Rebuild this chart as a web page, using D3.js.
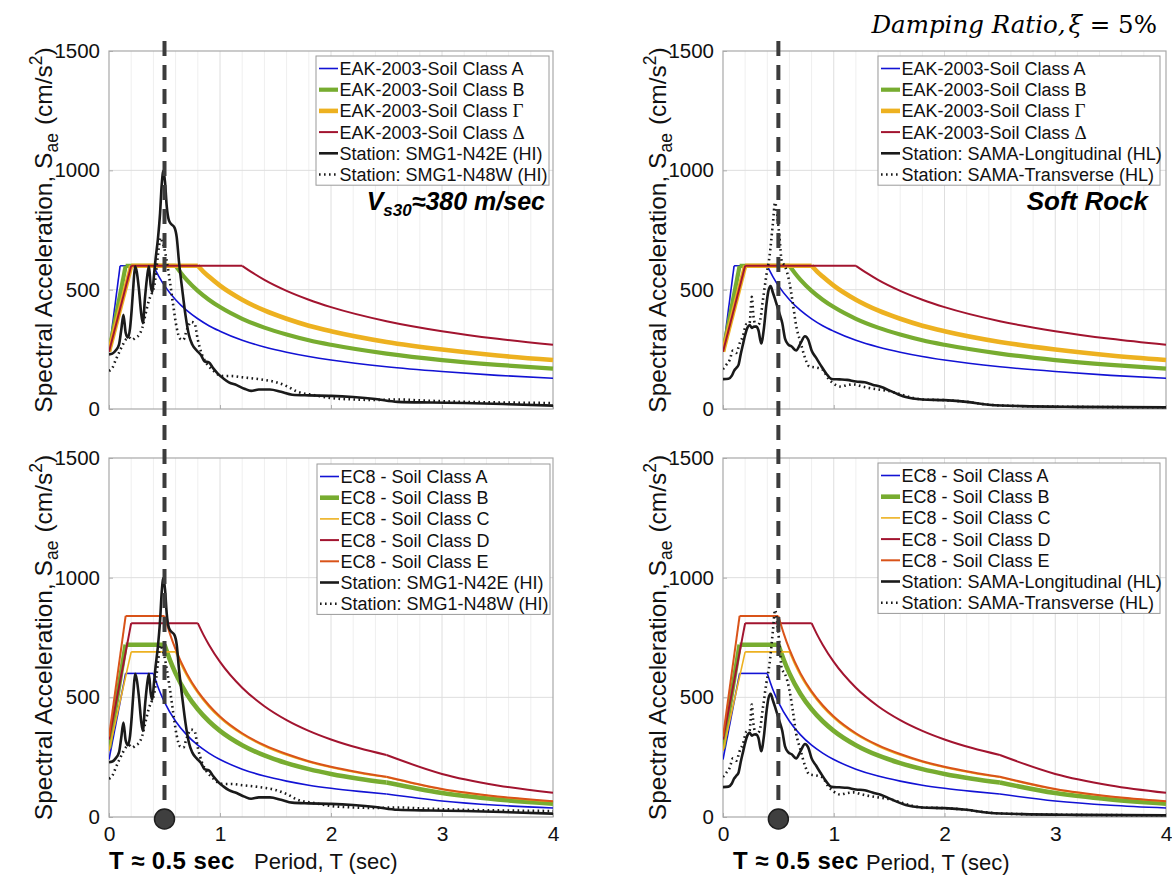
<!DOCTYPE html>
<html><head><meta charset="utf-8">
<script src="https://cdn.jsdelivr.net/npm/d3@7"></script>
<style>
body{margin:0;background:#fff;}
svg{display:block;font-family:"Liberation Sans",Arial,Helvetica,sans-serif;}
</style>
</head><body>
<svg id="chart" width="1172" height="875"></svg>
<script>
// ---------------- DATA ----------------
const periodTicks = [0, 1, 2, 3, 4];
const periodMinorTicks = [0.2, 0.4, 0.6, 0.8, 1.2, 1.4, 1.6, 1.8, 2.2, 2.4, 2.6, 2.8, 3.2, 3.4, 3.6, 3.8];
const saTicks = [0, 500, 1000, 1500];
const markPeriod = 0.5;

// EAK-2003 design spectra (period s, Sae cm/s^2)
const eakA_T  = [0, 0.1, 0.4, 0.45, 0.5, 0.6, 0.7, 0.8, 0.9, 1.0, 1.2, 1.4, 1.6, 1.8, 2.0, 2.5, 3.0, 3.5, 4.0];
const eakA_Sa = [240, 600, 600, 555, 517, 458, 413, 378, 349, 326, 288, 260, 238, 220, 205, 177, 157, 141, 129];
const eakB_T  = [0, 0.15, 0.6, 0.65, 0.7, 0.8, 0.9, 1.0, 1.2, 1.4, 1.6, 1.8, 2.0, 2.5, 3.0, 3.5, 4.0];
const eakB_Sa = [240, 600, 600, 569, 541, 495, 458, 427, 378, 341, 312, 288, 269, 232, 205, 185, 169];
const eakG_T  = [0, 0.2, 0.8, 0.85, 0.9, 1.0, 1.2, 1.4, 1.6, 1.8, 2.0, 2.5, 3.0, 3.5, 4.0];
const eakG_Sa = [240, 600, 600, 576, 555, 517, 458, 413, 378, 349, 326, 281, 249, 224, 205];
const eakD_T  = [0, 0.2, 1.2, 1.3, 1.4, 1.6, 1.8, 2.0, 2.5, 3.0, 3.5, 4.0];
const eakD_Sa = [240, 600, 600, 569, 541, 495, 458, 427, 368, 326, 294, 269];
const eakCorners = [[0.1, 0.4], [0.15, 0.6], [0.2, 0.8], [0.2, 1.2]];
const eakLabels = ["EAK-2003-Soil Class A", "EAK-2003-Soil Class B", "EAK-2003-Soil Class Γ", "EAK-2003-Soil Class Δ"];

// EC8 design spectra
const ec8A_T  = [0, 0.15, 0.4, 0.45, 0.5, 0.6, 0.7, 0.8, 0.9, 1.0, 1.2, 1.4, 1.6, 1.8, 2.0, 2.25, 2.5, 3.0, 3.5, 4.0];
const ec8A_Sa = [240, 600, 600, 533, 480, 400, 343, 300, 267, 240, 200, 171, 150, 133, 120, 107, 96, 67, 49, 37.5];
const ec8B_T  = [0, 0.15, 0.5, 0.55, 0.6, 0.7, 0.8, 0.9, 1.0, 1.2, 1.4, 1.6, 1.8, 2.0, 2.25, 2.5, 3.0, 3.5, 4.0];
const ec8B_Sa = [288, 720, 720, 655, 600, 514, 450, 400, 360, 300, 257, 225, 200, 180, 160, 144, 100, 73.5, 56];
const ec8C_T  = [0, 0.2, 0.6, 0.65, 0.7, 0.8, 0.9, 1.0, 1.2, 1.4, 1.6, 1.8, 2.0, 2.25, 2.5, 3.0, 3.5, 4.0];
const ec8C_Sa = [276, 690, 690, 637, 591, 518, 460, 414, 345, 296, 259, 230, 207, 184, 166, 115, 84.5, 64.7];
const ec8D_T  = [0, 0.2, 0.8, 0.85, 0.9, 1.0, 1.2, 1.4, 1.6, 1.8, 2.0, 2.25, 2.5, 3.0, 3.5, 4.0];
const ec8D_Sa = [324, 810, 810, 762, 720, 648, 540, 463, 405, 360, 324, 288, 259, 180, 132, 101];
const ec8E_T  = [0, 0.15, 0.5, 0.55, 0.6, 0.7, 0.8, 0.9, 1.0, 1.2, 1.4, 1.6, 1.8, 2.0, 2.25, 2.5, 3.0, 3.5, 4.0];
const ec8E_Sa = [336, 840, 840, 764, 700, 600, 525, 467, 420, 350, 300, 263, 233, 210, 187, 168, 117, 86, 66];
const ec8Corners = [[0.15, 0.4, 2.5], [0.15, 0.5, 2.5], [0.2, 0.6, 2.5], [0.2, 0.8, 2.5], [0.15, 0.5, 2.5]];
const ec8Labels = ["EC8 - Soil Class A", "EC8 - Soil Class B", "EC8 - Soil Class C", "EC8 - Soil Class D", "EC8 - Soil Class E"];

// Recorded spectra, station SMG1
const smgN42E_T  = [0, 0.03, 0.06, 0.09, 0.11, 0.13, 0.15, 0.17, 0.19, 0.205, 0.22, 0.235, 0.25, 0.27, 0.29, 0.305, 0.325, 0.345, 0.36, 0.375, 0.39, 0.405, 0.42, 0.44, 0.46, 0.475, 0.49, 0.505, 0.52, 0.54, 0.56, 0.59, 0.61, 0.63, 0.66, 0.69, 0.72, 0.75, 0.79, 0.83, 0.86, 0.9, 0.94, 0.98, 1.03, 1.08, 1.15, 1.22, 1.28, 1.35, 1.45, 1.55, 1.65, 1.8, 2.0, 2.2, 2.4, 2.6, 2.9, 3.2, 3.6, 4.0];
const smgN42E_Sa = [229, 232, 245, 270, 330, 395, 320, 300, 340, 420, 520, 598, 575, 500, 400, 360, 470, 560, 598, 520, 490, 560, 630, 710, 820, 940, 998, 950, 850, 790, 775, 760, 720, 620, 500, 390, 310, 270, 245, 225, 200, 195, 170, 148, 128, 112, 100, 85, 76, 82, 82, 72, 60, 57, 55, 50, 42, 30, 27, 25, 20, 14];
const smgN48W_T  = [0, 0.03, 0.06, 0.09, 0.12, 0.15, 0.18, 0.21, 0.24, 0.27, 0.3, 0.33, 0.36, 0.39, 0.41, 0.43, 0.45, 0.465, 0.48, 0.5, 0.52, 0.55, 0.58, 0.61, 0.64, 0.67, 0.7, 0.74, 0.77, 0.8, 0.84, 0.88, 0.93, 0.98, 1.03, 1.1, 1.2, 1.3, 1.4, 1.5, 1.6, 1.7, 1.85, 2.0, 2.2, 2.4, 2.6, 2.8, 3.2, 3.6, 4.0];
const smgN48W_Sa = [160, 172, 205, 236, 265, 290, 300, 290, 300, 310, 340, 400, 455, 490, 520, 600, 680, 718, 700, 670, 620, 530, 430, 340, 295, 290, 330, 365, 360, 290, 225, 190, 165, 145, 138, 138, 133, 128, 122, 113, 96, 72, 58, 46, 40, 38, 40, 36, 30, 27, 25];
const smgLabels = ["Station: SMG1-N42E (HI)", "Station: SMG1-N48W (HI)"];

// Recorded spectra, station SAMA
const samaL_T  = [0, 0.05, 0.08, 0.1, 0.12, 0.14, 0.16, 0.18, 0.2, 0.22, 0.24, 0.26, 0.28, 0.3, 0.32, 0.345, 0.37, 0.39, 0.41, 0.43, 0.45, 0.47, 0.49, 0.51, 0.535, 0.56, 0.59, 0.62, 0.66, 0.7, 0.74, 0.77, 0.8, 0.84, 0.88, 0.93, 0.98, 1.05, 1.12, 1.2, 1.28, 1.35, 1.43, 1.5, 1.58, 1.65, 1.8, 2.0, 2.2, 2.4, 2.7, 3.2, 4.0];
const samaL_Sa = [125, 127, 140, 160, 172, 185, 230, 270, 310, 340, 352, 340, 345, 345, 330, 275, 340, 430, 495, 515, 488, 460, 430, 400, 360, 295, 270, 262, 245, 275, 305, 290, 245, 215, 185, 150, 126, 124, 122, 115, 112, 102, 92, 78, 62, 50, 40, 37, 30, 18, 12, 9, 7];
const samaT_T  = [0, 0.03, 0.06, 0.09, 0.12, 0.15, 0.18, 0.21, 0.24, 0.26, 0.275, 0.3, 0.33, 0.36, 0.39, 0.42, 0.45, 0.47, 0.49, 0.51, 0.53, 0.56, 0.6, 0.63, 0.66, 0.7, 0.74, 0.78, 0.82, 0.86, 0.9, 0.95, 1.0, 1.06, 1.12, 1.18, 1.25, 1.32, 1.4, 1.5, 1.6, 1.7, 1.8, 2.0, 2.2, 2.4, 2.7, 3.2, 4.0];
const samaT_Sa = [167, 185, 205, 245, 235, 275, 305, 355, 360, 470, 390, 345, 360, 455, 555, 640, 775, 865, 810, 720, 620, 598, 530, 445, 350, 280, 215, 178, 175, 172, 165, 128, 106, 94, 100, 103, 95, 88, 82, 75, 62, 48, 40, 37, 30, 18, 12, 9, 7];
const samaLabels = ["Station: SAMA-Longitudinal (HL)", "Station: SAMA-Transverse (HL)"];

// ---------------- STYLES / LAYOUT ----------------
const eakStyles = [
  {color: "#1212d4", width: 1.6},
  {color: "#77ac30", width: 4.2},
  {color: "#edb120", width: 4.6},
  {color: "#a2142f", width: 2}
];
const ec8Styles = [
  {color: "#1212d4", width: 1.6},
  {color: "#77ac30", width: 4.6},
  {color: "#edb120", width: 1.6},
  {color: "#a2142f", width: 2},
  {color: "#d95319", width: 2}
];
const stationStyles = [
  {color: "#1a1a1a", width: 2.6, dash: null},
  {color: "#1a1a1a", width: 2.6, dash: "1.6,3.4"}
];

function makeCode(Ts, Sas, corners, labels, styles) {
  return Ts.map((T, i) => ({T, Sa: Sas[i], corners: corners[i], label: labels[i], style: styles[i]}));
}
const eakSeries = makeCode([eakA_T, eakB_T, eakG_T, eakD_T], [eakA_Sa, eakB_Sa, eakG_Sa, eakD_Sa], eakCorners, eakLabels, eakStyles);
const ec8Series = makeCode([ec8A_T, ec8B_T, ec8C_T, ec8D_T, ec8E_T], [ec8A_Sa, ec8B_Sa, ec8C_Sa, ec8D_Sa, ec8E_Sa], ec8Corners, ec8Labels, ec8Styles);
const smgSeries = [
  {T: smgN42E_T, Sa: smgN42E_Sa, corners: [], label: smgLabels[0], style: stationStyles[0]},
  {T: smgN48W_T, Sa: smgN48W_Sa, corners: [], label: smgLabels[1], style: stationStyles[1]}
];
const samaSeries = [
  {T: samaL_T, Sa: samaL_Sa, corners: [], label: samaLabels[0], style: stationStyles[0]},
  {T: samaT_T, Sa: samaT_Sa, corners: [], label: samaLabels[1], style: stationStyles[1]}
];

const panels = [
  {left: 109, right: 553, top: 51, bottom: 409, code: eakSeries, stations: smgSeries, leg: {x: 316, y: 56, w: 233}, xLabels: false, ylabX: 52},
  {left: 723, right: 1166, top: 51, bottom: 409, code: eakSeries, stations: samaSeries, leg: {x: 878, y: 56, w: 282}, xLabels: false, ylabX: 666},
  {left: 109, right: 553, top: 458, bottom: 817, code: ec8Series, stations: smgSeries, leg: {x: 317, y: 464, w: 233}, xLabels: true, ylabX: 52},
  {left: 723, right: 1166, top: 458, bottom: 817, code: ec8Series, stations: samaSeries, leg: {x: 878, y: 463, w: 282}, xLabels: true, ylabX: 666}
];

const svg = d3.select("#chart");
svg.append("rect").attr("width", 1172).attr("height", 875).attr("fill", "#fff");

function splitPieces(s) {
  const pts = s.T.map((t, i) => [t, s.Sa[i]]);
  if (!s.corners.length) return [pts];
  const pieces = [];
  let cur = [];
  pts.forEach(p => {
    cur.push(p);
    if (s.corners.some(c => Math.abs(c - p[0]) < 1e-9)) { pieces.push(cur); cur = [p]; }
  });
  if (cur.length > 1) pieces.push(cur);
  return pieces;
}

panels.forEach((p, pi) => {
  const x = d3.scaleLinear().domain([0, 4]).range([p.left, p.right]);
  const y = d3.scaleLinear().domain([0, 1500]).range([p.bottom, p.top]);
  p.x = x; p.y = y;
  const g = svg.append("g");

  // grid
  g.append("g").selectAll("line").data(periodMinorTicks).join("line")
    .attr("x1", d => x(d)).attr("x2", d => x(d)).attr("y1", p.top).attr("y2", p.bottom)
    .attr("stroke", "#efefef").attr("stroke-width", 1);
  g.append("g").selectAll("line").data(periodTicks.slice(1, -1)).join("line")
    .attr("x1", d => x(d)).attr("x2", d => x(d)).attr("y1", p.top).attr("y2", p.bottom)
    .attr("stroke", "#dedede").attr("stroke-width", 1);
  g.append("g").selectAll("line").data(saTicks.slice(1, -1)).join("line")
    .attr("x1", p.left).attr("x2", p.right).attr("y1", d => y(d)).attr("y2", d => y(d))
    .attr("stroke", "#dedede").attr("stroke-width", 1);

  // axes (box)
  const yAxis = d3.axisLeft(y).tickValues(saTicks).tickSize(-4).tickPadding(9).tickFormat(d3.format("d"));
  const ya = g.append("g").attr("transform", `translate(${p.left},0)`).call(yAxis);
  ya.select(".domain").remove();
  ya.selectAll("line").attr("stroke", "#b0b0b0");
  ya.selectAll("text").attr("font-size", 20.5).attr("fill", "#111").attr("font-family", "Liberation Sans, Arial, sans-serif");

  const xAxis = d3.axisBottom(x).tickValues(periodTicks).tickSize(-4).tickPadding(9)
    .tickFormat(p.xLabels ? d3.format("d") : () => "");
  const xa = g.append("g").attr("transform", `translate(0,${p.bottom})`).call(xAxis);
  xa.select(".domain").remove();
  xa.selectAll("line").attr("stroke", "#b0b0b0");
  xa.selectAll("text").attr("font-size", 21).attr("fill", "#111").attr("font-family", "Liberation Sans, Arial, sans-serif");

  g.append("rect").attr("x", p.left).attr("y", p.top).attr("width", p.right - p.left).attr("height", p.bottom - p.top)
    .attr("fill", "none").attr("stroke", "#a8a8a8").attr("stroke-width", 1.2);

  // clip
  const cid = "clip" + pi;
  svg.append("clipPath").attr("id", cid).append("rect")
    .attr("x", p.left).attr("y", p.top - 2).attr("width", p.right - p.left + 1).attr("height", p.bottom - p.top + 4);
  const plot = g.append("g").attr("clip-path", `url(#${cid})`);

  const line = d3.line().x(d => x(d[0])).y(d => y(d[1])).curve(d3.curveMonotoneX);
  const all = p.code.concat(p.stations);
  all.forEach(s => {
    splitPieces(s).forEach(piece => {
      plot.append("path").attr("d", line(piece)).attr("fill", "none")
        .attr("stroke", s.style.color).attr("stroke-width", s.style.width)
        .attr("stroke-dasharray", s.style.dash).attr("stroke-linejoin", "round");
    });
  });

  // y label
  const yl = g.append("text").attr("transform", `translate(${p.ylabX},${(p.top + p.bottom) / 2}) rotate(-90)`)
    .attr("text-anchor", "middle").attr("font-size", 24.5).attr("fill", "#111");
  yl.append("tspan").text("Spectral Acceleration, S");
  yl.append("tspan").attr("dy", 5.5).attr("font-size", 17.5).text("ae");
  yl.append("tspan").attr("dy", -5.5).attr("dx", 8).text("(cm/s");
  yl.append("tspan").attr("dy", -10).attr("font-size", 17.5).text("2");
  yl.append("tspan").attr("dy", 10).text(")");

  // legend
  const rowH = 21.2;
  const lg = g.append("g");
  lg.append("rect").attr("x", p.leg.x).attr("y", p.leg.y).attr("width", p.leg.w).attr("height", all.length * rowH + 2)
    .attr("fill", "#fff").attr("stroke", "#9a9a9a").attr("stroke-width", 1);
  all.forEach((s, i) => {
    const cy = p.leg.y + 12.5 + i * rowH;
    lg.append("line").attr("x1", p.leg.x + 3).attr("x2", p.leg.x + 22).attr("y1", cy).attr("y2", cy)
      .attr("stroke", s.style.color).attr("stroke-width", s.style.width).attr("stroke-dasharray", s.style.dash);
    const t = lg.append("text").attr("x", p.leg.x + 23.5).attr("y", cy + 6.4).attr("font-size", 18).attr("fill", "#111");
    const last = s.label.slice(-1);
    if (last === "Γ" || last === "Δ") {
      t.append("tspan").text(s.label.slice(0, -1));
      t.append("tspan").attr("font-family", "Liberation Serif, DejaVu Serif, serif").attr("font-size", 19).text(last);
    } else {
      t.text(s.label);
    }
  });
});

// annotation texts
const vs = svg.append("text").attr("x", 545).attr("y", 210).attr("text-anchor", "end")
  .attr("font-size", 25).attr("font-weight", "bold").attr("font-style", "italic").attr("fill", "#000");
vs.append("tspan").text("V");
vs.append("tspan").attr("dy", 6).attr("font-size", 17).text("s30");
vs.append("tspan").attr("dy", -6).text("≈380 m/sec");

svg.append("text").attr("x", 1148).attr("y", 210).attr("text-anchor", "end")
  .attr("font-size", 26).attr("font-weight", "bold").attr("font-style", "italic").attr("fill", "#000").text("Soft Rock");

const ttl = svg.append("text").attr("x", 1157).attr("y", 33).attr("text-anchor", "end")
  .attr("font-family", "DejaVu Serif, Liberation Serif, serif").attr("font-size", 24.5).attr("fill", "#000");
ttl.append("tspan").attr("font-style", "italic").text("Damping Ratio,");
ttl.append("tspan").attr("font-style", "italic").attr("dx", 3).text("ξ");
ttl.append("tspan").text(" = 5%");

// vertical marker lines at T = 0.5 s with dots
[[panels[0], panels[2]], [panels[1], panels[3]]].forEach(([top, bot]) => {
  const xm = top.x(markPeriod);
  svg.append("line").attr("x1", xm).attr("x2", xm).attr("y1", 41).attr("y2", bot.y(0) - 6)
    .attr("stroke", "#3c3c3c").attr("stroke-width", 4).attr("stroke-dasharray", "15,9");
  svg.append("circle").attr("cx", bot.x(markPeriod)).attr("cy", bot.y(0) + 2).attr("r", 10)
    .attr("fill", "#3f3f3f").attr("stroke", "#1e1e1e").attr("stroke-width", 1.5);
});

// bottom texts
[[panels[2], 109, 254, 869, 869], [panels[3], 733, 866, 869, 869.5]].forEach(([p, tx, px, ty, py]) => {
  svg.append("text").attr("x", tx).attr("y", ty).attr("font-size", 24).attr("font-weight", "bold")
    .attr("letter-spacing", 0.4).attr("fill", "#000").text("T ≈ 0.5 sec");
  svg.append("text").attr("x", px).attr("y", py).attr("font-size", 22).attr("fill", "#111").text("Period, T (sec)");
});
</script>
</body></html>
